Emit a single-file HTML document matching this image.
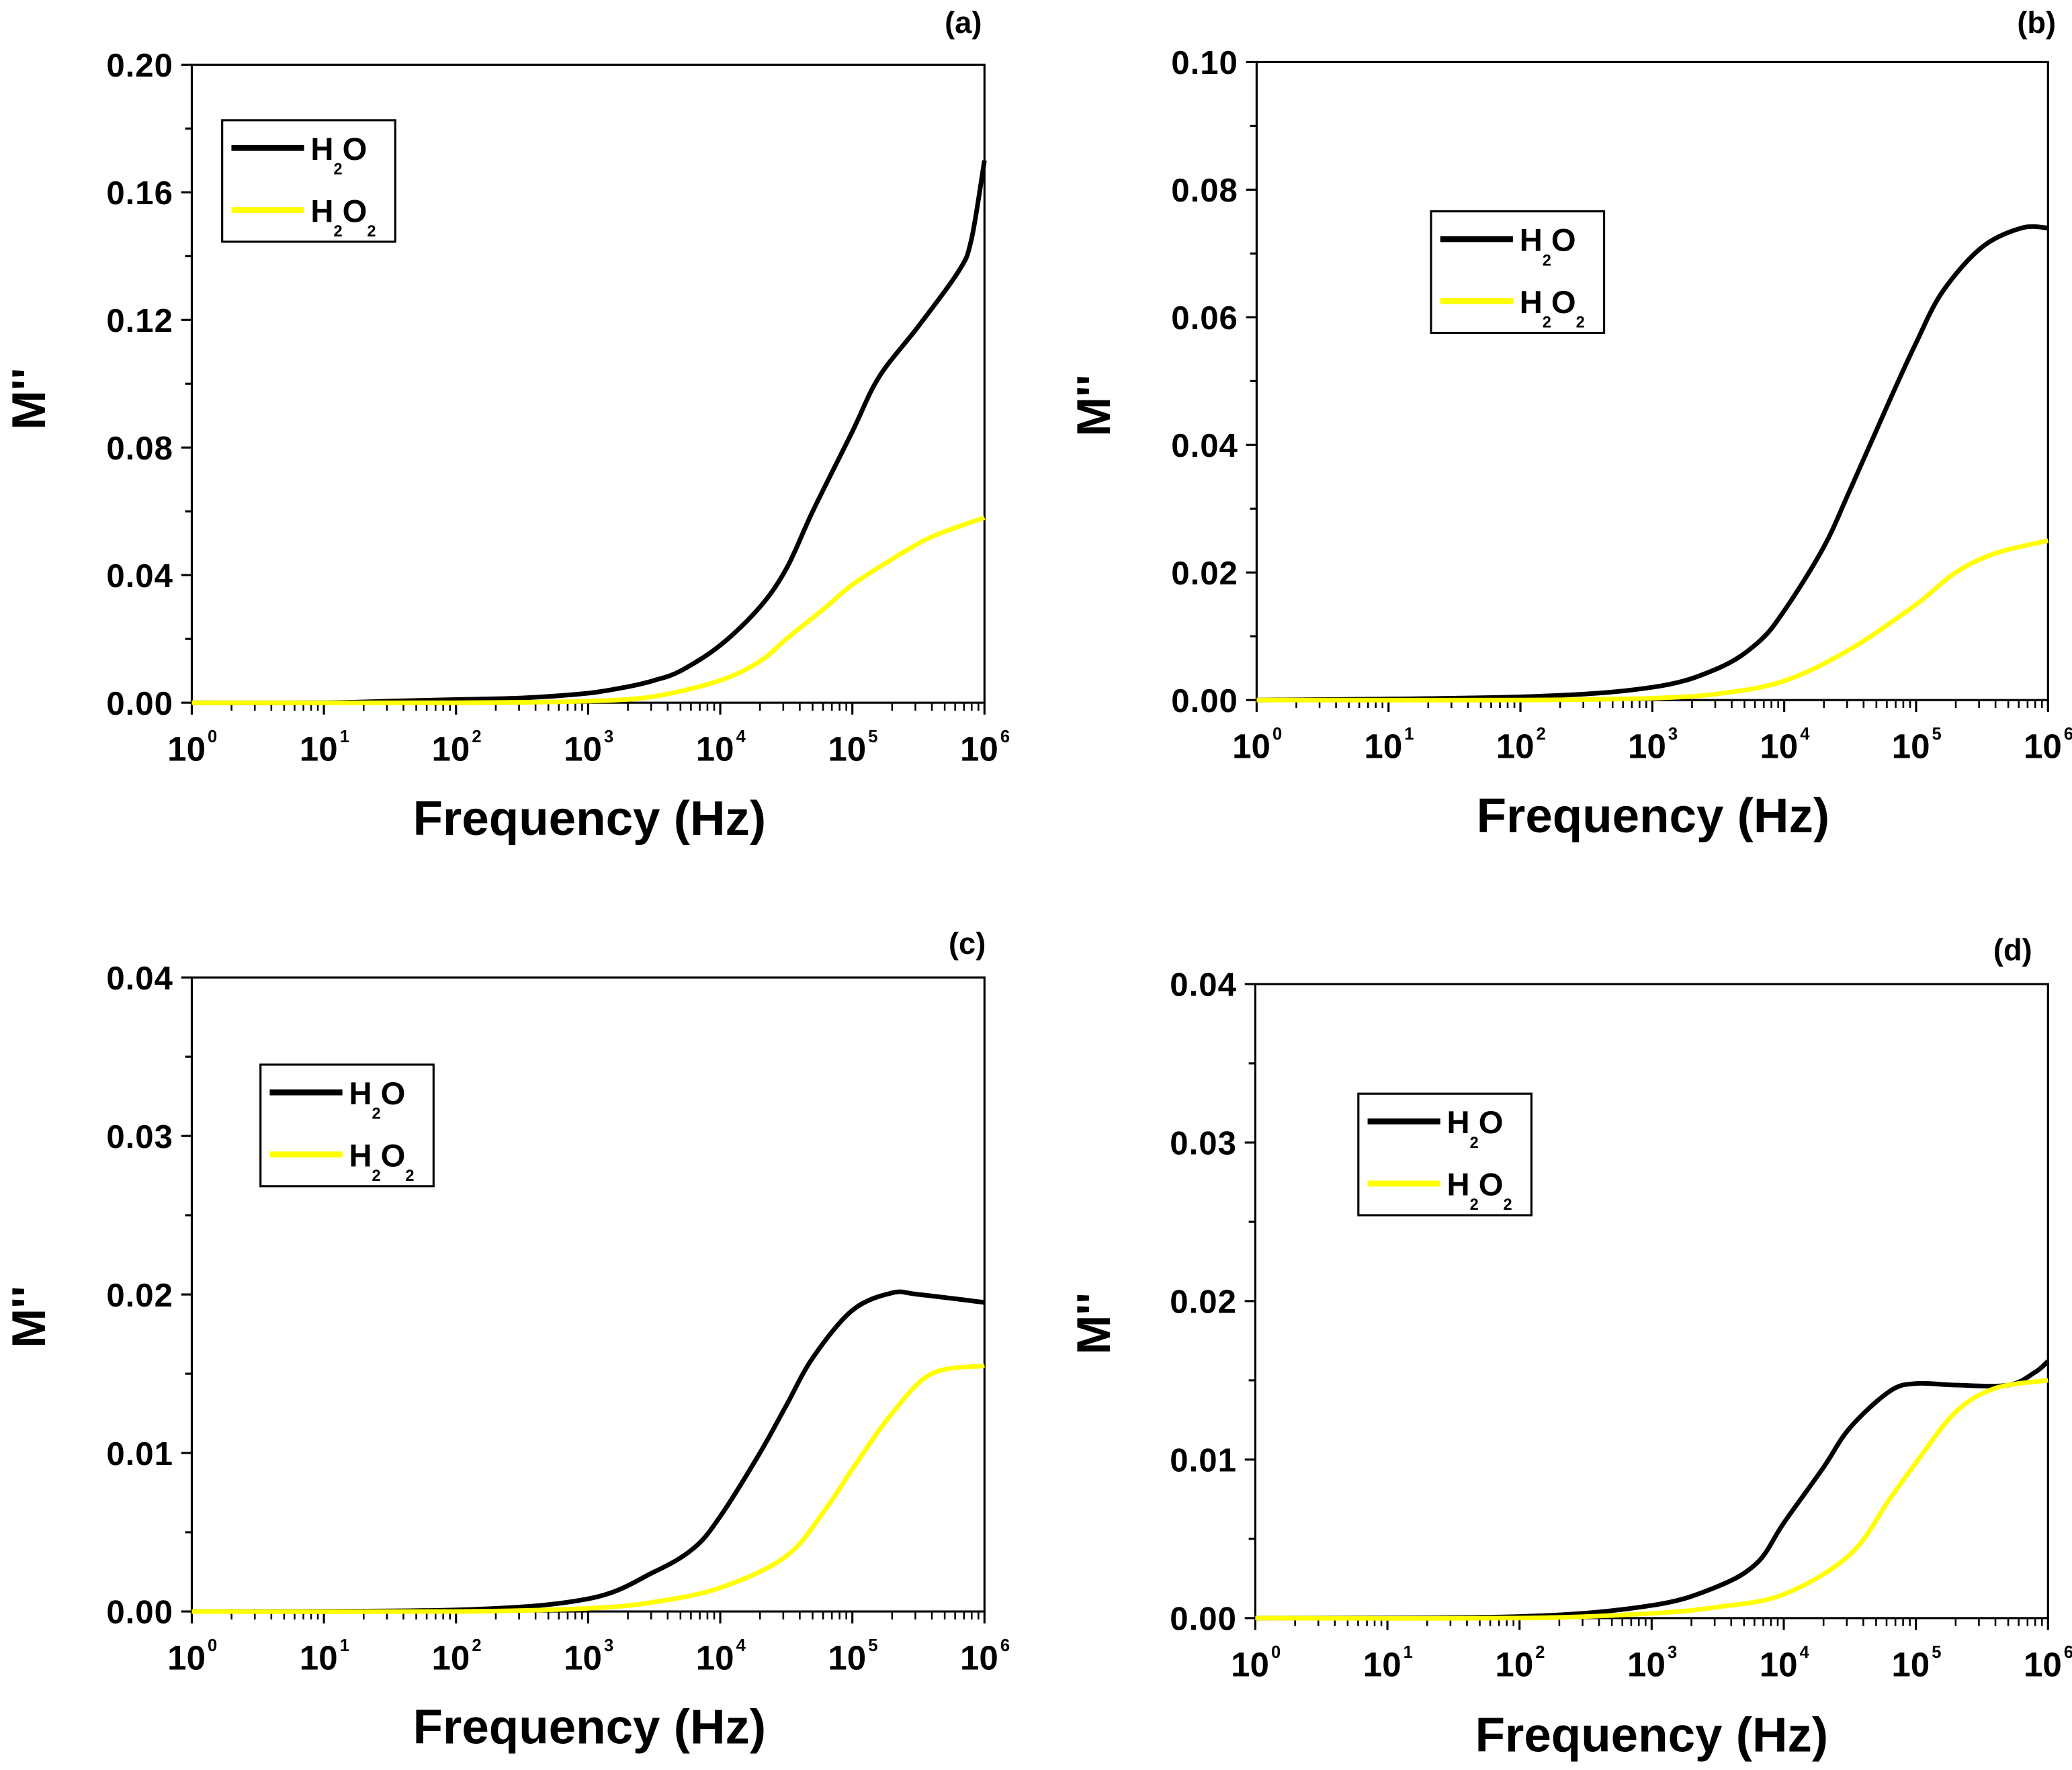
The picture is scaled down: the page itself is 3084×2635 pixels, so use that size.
<!DOCTYPE html>
<html><head><meta charset="utf-8">
<style>
html,body{margin:0;padding:0;background:#fff;}
svg{display:block;}
text{font-family:"Liberation Sans",Arial,sans-serif;font-weight:bold;fill:#000;}
</style></head>
<body>
<svg id="fig" width="3084" height="2635" viewBox="0 0 1568 1340" xmlns="http://www.w3.org/2000/svg"></svg>
<script>
// Panel data: x values are log10(frequency), y values are M''
const aH2Ox = [0,1,1.5,2,2.5,3,3.3,3.5,3.7,4,4.3,4.5,4.7,5,5.2,5.5,5.8,5.9,6];
const aH2Oy = [0,0,0.0005,0.001,0.0015,0.003,0.005,0.007,0.01,0.018,0.03,0.042,0.06,0.085,0.102,0.118,0.135,0.145,0.17];
const aH2O2x = [0,2,3,3.5,4,4.3,4.5,4.8,5,5.3,5.6,6];
const aH2O2y = [0,0,0.0005,0.002,0.007,0.013,0.02,0.03,0.037,0.045,0.052,0.058];
const bH2Ox = [0,2,3,3.5,3.8,4,4.3,4.5,4.8,5,5.2,5.5,5.8,6];
const bH2Oy = [0,0.0005,0.002,0.005,0.009,0.014,0.024,0.033,0.047,0.056,0.064,0.071,0.074,0.074];
const bH2O2x = [0,2,3,3.5,4,4.5,5,5.3,5.6,6];
const bH2O2y = [0,0,0.0003,0.001,0.003,0.008,0.015,0.02,0.023,0.025];
const cH2Ox = [0,2,3,3.5,3.8,4,4.3,4.5,4.7,5,5.3,5.5,6];
const cH2Oy = [0,0.0001,0.0008,0.0025,0.004,0.006,0.01,0.013,0.016,0.019,0.0201,0.02,0.0195];
const cH2O2x = [0,2,3,3.5,4,4.5,4.8,5,5.3,5.6,6];
const cH2O2y = [0,0,0.0002,0.0006,0.0015,0.0035,0.0065,0.009,0.0125,0.015,0.0155];
const dH2Ox = [0,2,3,3.5,3.8,4,4.3,4.5,4.8,5,5.3,5.7,5.9,6];
const dH2Oy = [0,0.0001,0.0008,0.002,0.0035,0.006,0.0095,0.012,0.0143,0.0148,0.0147,0.0147,0.0155,0.0162];
const dH2O2x = [0,2,3,3.5,4,4.5,4.8,5,5.3,5.6,6];
const dH2O2y = [0,0,0.0003,0.0007,0.0015,0.004,0.0075,0.0098,0.013,0.0145,0.015];
const xTickLabels = ["0","1","2","3","4","5","6"];
const aYTicks = ["0.00","0.04","0.08","0.12","0.16","0.20"];
const bYTicks = ["0.00","0.02","0.04","0.06","0.08","0.10"];
const cYTicks = ["0.00","0.01","0.02","0.03","0.04"];
const dYTicks = ["0.00","0.01","0.02","0.03","0.04"];

const NS="http://www.w3.org/2000/svg";
const svg=document.getElementById('fig');
function mk(tag,attrs,parent){const e=document.createElementNS(NS,tag);for(const k in attrs)e.setAttribute(k,attrs[k]);(parent||svg).appendChild(e);return e;}

function smoothPath(pts){
 let d='M'+pts[0][0].toFixed(1)+','+pts[0][1].toFixed(1);
 for(let i=0;i<pts.length-1;i++){
  const p0=pts[Math.max(0,i-1)],p1=pts[i],p2=pts[i+1],p3=pts[Math.min(pts.length-1,i+2)];
  const c1x=p1[0]+(p2[0]-p0[0])/6,c1y=p1[1]+(p2[1]-p0[1])/6;
  const c2x=p2[0]-(p3[0]-p1[0])/6,c2y=p2[1]-(p3[1]-p1[1])/6;
  d+='C'+c1x.toFixed(1)+','+c1y.toFixed(1)+' '+c2x.toFixed(1)+','+c2y.toFixed(1)+' '+p2[0].toFixed(1)+','+p2[1].toFixed(1);
 }
 return d;
}

const panels=[
 {id:'a',L:145,R:745,T:49,B:532,ymax:0.20,yt:aYTicks,s:[[aH2Ox,aH2Oy],[aH2O2x,aH2O2y]],leg:[168,91],lab:[743,25],yl:[22,290],xl:[446,632]},
 {id:'b',L:951,R:1550,T:47,B:530,ymax:0.10,yt:bYTicks,s:[[bH2Ox,bH2Oy],[bH2O2x,bH2O2y]],leg:[1083,160],lab:[1556,25],yl:[828,295],xl:[1251,630]},
 {id:'c',L:145,R:745,T:740,B:1220,ymax:0.04,yt:cYTicks,s:[[cH2Ox,cH2Oy],[cH2O2x,cH2O2y]],leg:[197,806],lab:[746,722],yl:[22,985],xl:[446,1320]},
 {id:'d',L:950,R:1550,T:745,B:1225,ymax:0.04,yt:dYTicks,s:[[dH2Ox,dH2Oy],[dH2O2x,dH2O2y]],leg:[1028,828],lab:[1538,727],yl:[828,990],xl:[1250,1326]}
];
const colors=['#000000','#ffff00'];
const names=['h2o','h2o2'];
panels.forEach(p=>{
 const g=mk('g',{});
 
 
 const sx=v=>p.L+(p.R-p.L)*v/6;
 const sy=v=>p.B-(p.B-p.T)*v/p.ymax;
 const fr=mk('rect',{x:p.L,y:p.T,width:p.R-p.L,height:p.B-p.T,fill:'none',stroke:'#000','stroke-width':1.6},g);
 
 
 const n=p.yt.length-1;
 for(let i=0;i<=n;i++){
  const v=p.ymax*i/n,y=sy(v);
  mk('line',{x1:p.L-8,x2:p.L,y1:y,y2:y,stroke:'#000','stroke-width':1.6},g);
  if(i<n){const y2=sy(v+p.ymax/n/2);mk('line',{x1:p.L-5,x2:p.L,y1:y2,y2:y2,stroke:'#000','stroke-width':1.6},g);}
  const t=mk('text',{x:p.L-14,y:y+9,'text-anchor':'end','font-size':25,'letter-spacing':'0.5'},g);
  t.textContent=p.yt[i];
  
  
 }
 for(let d=0;d<=6;d++){
  const x=sx(d);
  mk('line',{x1:x,x2:x,y1:p.B,y2:p.B+9,stroke:'#000','stroke-width':1.6},g);
  if(d<6)for(let m=2;m<=9;m++){const xm=sx(d+Math.log10(m));mk('line',{x1:xm,x2:xm,y1:p.B,y2:p.B+6,stroke:'#000','stroke-width':1.3},g);}
  const t=mk('text',{x:x-4,y:p.B+44,'text-anchor':'middle','font-size':26},g);
  t.textContent='10';
  
  
  const e=mk('text',{x:x+12,y:p.B+30,'font-size':13,'font-weight':'normal'},g);
  e.textContent=xTickLabels[d];
 }
 p.s.forEach((ser,k)=>{
  const pts=ser[0].map((xv,i)=>[sx(xv),sy(ser[1][i])]);
  const pa=mk('path',{d:smoothPath(pts),fill:'none',stroke:colors[k],'stroke-width':3.5,'stroke-linejoin':'round'},g);
  
  
 });
 const [lx,ly]=p.leg;
 const lg=mk('g',{},g);
 
 
 mk('rect',{x:lx,y:ly,width:131,height:92,fill:'#fff',stroke:'#000','stroke-width':1.6},lg);
 [0,1].forEach(k=>{
  const yy=ly+21+k*47;
  mk('line',{x1:lx+7,x2:lx+62,y1:yy,y2:yy,stroke:colors[k],'stroke-width':4.5},lg);
  const t=mk('text',{x:lx+67,y:yy+9,'font-size':24},lg);
  
  
  t.innerHTML='H<tspan font-size="12" dy="11">2</tspan><tspan dy="-11">O</tspan>'+(k?'<tspan font-size="12" dy="11">2</tspan>':'');
 });
 const pl=mk('text',{x:p.lab[0],y:p.lab[1],'text-anchor':'end','font-size':23},g);
 pl.textContent='('+p.id+')';
 
 
 const yl=mk('text',{x:p.yl[0],y:p.yl[1],'text-anchor':'middle','font-size':36,transform:'rotate(-90 '+(p.yl[0]+12)+' '+p.yl[1]+')'},g);
 yl.textContent="M''";
 
 
 const xl=mk('text',{x:p.xl[0],y:p.xl[1],'text-anchor':'middle','font-size':37},g);
 xl.textContent='Frequency (Hz)';
 
 
});
</script>
</body></html>
